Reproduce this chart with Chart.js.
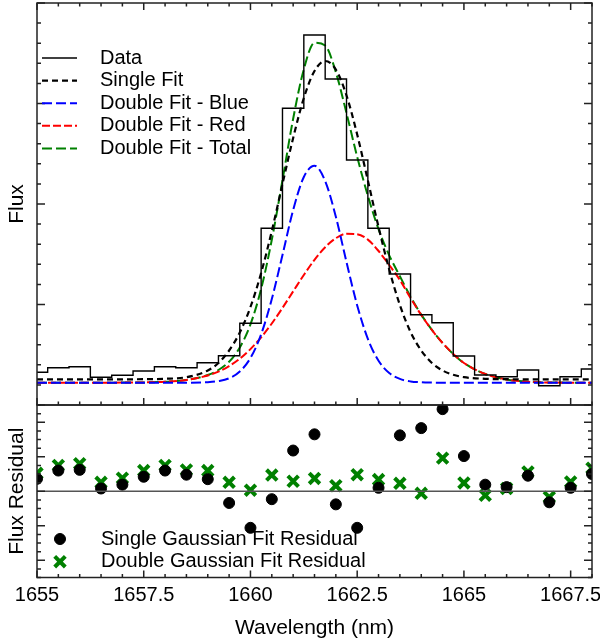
<!DOCTYPE html>
<html>
<head>
<meta charset="utf-8">
<script src="https://cdn.jsdelivr.net/npm/chart.js@4/dist/chart.umd.min.js"></script>
<style>
  body { margin: 0; background: #fff; }
  #wrap { position: relative; width: 600px; height: 643px; }
  #wrap canvas { position: absolute; left: 0; }
</style>
</head>
<body>
<div id="wrap">
  <canvas id="fluxChart" width="600" height="408" style="top:0"></canvas>
  <canvas id="residChart" width="600" height="243" style="top:400px"></canvas>
</div>
<script>
// Spectrum bins (nm) and observed flux
const binX = [1655, 1655.5, 1656, 1656.5, 1657, 1657.5, 1658, 1658.5, 1659, 1659.5,
  1660, 1660.5, 1661, 1661.5, 1662, 1662.5, 1663, 1663.5, 1664, 1664.5,
  1665, 1665.5, 1666, 1666.5, 1667, 1667.5, 1668];
const dataFlux = [0.307, 0.353, 0.363, 0.257, 0.277, 0.32, 0.363, 0.353, 0.403, 0.473,
  0.797, 1.747, 2.947, 3.68, 3.24, 2.43, 1.747, 1.29, 0.883, 0.803,
  0.47, 0.28, 0.263, 0.33, 0.173, 0.263, 0.34];

const fitX = [1655, 1656, 1657, 1657.5, 1658, 1658.5, 1659, 1659.25, 1659.5, 1659.75,
  1660, 1660.25, 1660.5, 1660.75, 1661, 1661.25, 1661.5, 1661.75, 1662, 1662.25,
  1662.5, 1662.75, 1663, 1663.25, 1663.5, 1663.75, 1664, 1664.25, 1664.5, 1664.75,
  1665, 1665.5, 1666, 1666.5, 1667, 1668];
const singleFit = [0.237, 0.237, 0.237, 0.238, 0.242, 0.258, 0.325, 0.40, 0.525, 0.705,
  0.96, 1.30, 1.72, 2.19, 2.65, 3.05, 3.32, 3.42, 3.335, 3.075,
  2.685, 2.225, 1.76, 1.335, 0.98, 0.71, 0.525, 0.40, 0.325, 0.282,
  0.258, 0.242, 0.238, 0.237, 0.237, 0.237];
const blueFit = [0.203, 0.203, 0.203, 0.203, 0.203, 0.203, 0.208, 0.219, 0.247, 0.315,
  0.45, 0.687, 1.04, 1.48, 1.93, 2.26, 2.373, 2.22, 1.863, 1.408,
  0.976, 0.641, 0.422, 0.30, 0.241, 0.216, 0.207, 0.204, 0.203, 0.203,
  0.203, 0.203, 0.203, 0.203, 0.203, 0.203];
const redFit = [0.203, 0.203, 0.204, 0.206, 0.212, 0.23, 0.275, 0.314, 0.369, 0.443,
  0.539, 0.657, 0.795, 0.951, 1.116, 1.28, 1.432, 1.558, 1.648, 1.693,
  1.688, 1.634, 1.52, 1.38, 1.23, 1.05, 0.88, 0.73, 0.60, 0.49,
  0.40, 0.29, 0.235, 0.212, 0.205, 0.203];
const totalFit = [0.203, 0.203, 0.204, 0.206, 0.212, 0.23, 0.28, 0.33, 0.413, 0.555,
  0.786, 1.141, 1.632, 2.228, 2.843, 3.337, 3.602, 3.575, 3.308, 2.898,
  2.461, 2.072, 1.739, 1.477, 1.268, 1.063, 0.884, 0.731, 0.60, 0.49,
  0.40, 0.29, 0.235, 0.212, 0.205, 0.203];

// Residuals per bin
const singleResid = [0.36, 0.6, 0.62, 0.08, 0.19, 0.42, 0.6, 0.48, 0.35, -0.34,
  -1.06, -0.23, 1.18, 1.65, -0.38, -1.06, 0.1, 1.62, 1.83, 2.38,
  1.02, 0.19, 0.12, 0.45, -0.32, 0.1, 0.5];
const doubleResid = [0.52, 0.75, 0.8, 0.26, 0.38, 0.6, 0.75, 0.62, 0.6, 0.26,
  0.03, 0.47, 0.29, 0.37, 0.16, 0.48, 0.34, 0.23, -0.06, 0.96,
  0.24, -0.12, 0.08, 0.56, -0.17, 0.27, 0.67];

const xTickLabels = [1655, 1657.5, 1660, 1662.5, 1665, 1667.5];

const FONT = "'Liberation Sans', Arial, sans-serif";
const pts = (xs, ys) => xs.map((x, i) => ({ x, y: ys[i] }));

// frame, inward ticks, zero line and in-plot legend
const framePlugin = {
  id: 'frame',
  afterDatasetsDraw(chart, args, opts) {
    const { ctx, chartArea: a } = chart;
    const xs = chart.scales.x, ys = chart.scales.y;
    ctx.save();
    ctx.strokeStyle = '#222';
    ctx.lineWidth = 1.5;

    if (opts.zeroLine) {
      const y0 = ys.getPixelForValue(0);
      ctx.strokeStyle = '#555';
      ctx.beginPath(); ctx.moveTo(a.left, y0); ctx.lineTo(a.right, y0); ctx.stroke();
      ctx.strokeStyle = '#222';
    }

    const tickRun = (scale, t, draw) => {
      for (let k = 0; ; k++) {
        const v = t.from + k * t.step;
        if (v > scale.max + 1e-6) break;
        const major = (k - (t.offset || 0)) % t.every === 0;
        draw(scale.getPixelForValue(v), major);
      }
    };
    ctx.beginPath();
    tickRun(xs, opts.xTicks, (p, major) => {
      const len = major ? 7 : 3.5;
      if (opts.xTop) { ctx.moveTo(p, a.top); ctx.lineTo(p, a.top + len); }
      ctx.moveTo(p, a.bottom); ctx.lineTo(p, a.bottom - len);
    });
    tickRun(ys, opts.yTicks, (p, major) => {
      const len = major ? 8 : 4;
      ctx.moveTo(a.left, p); ctx.lineTo(a.left + len, p);
      ctx.moveTo(a.right, p); ctx.lineTo(a.right - len, p);
    });
    ctx.stroke();

    ctx.strokeRect(a.left, a.top, a.right - a.left, a.bottom - a.top);

    // legend
    const lg = opts.legend;
    ctx.font = '20px ' + FONT;
    ctx.textBaseline = 'middle';
    chart.data.datasets.forEach((ds, i) => {
      const y = lg.top + i * lg.step;
      ctx.save();
      ctx.strokeStyle = ds.borderColor;
      ctx.fillStyle = ds.backgroundColor || ds.borderColor;
      ctx.lineWidth = ds.borderWidth;
      if (lg.kind === 'line') {
        ctx.setLineDash(ds.borderDash || []);
        ctx.beginPath(); ctx.moveTo(lg.x0, y); ctx.lineTo(lg.x1, y); ctx.stroke();
      } else {
        Chart.helpers.drawPoint(ctx, {
          pointStyle: ds.pointStyle, radius: ds.pointRadius,
          borderWidth: ds.borderWidth, rotation: 0
        }, lg.mx, y);
      }
      ctx.restore();
      ctx.fillStyle = '#000';
      ctx.fillText(ds.label, lg.tx, y);
    });
    ctx.restore();
  }
};

function yTitle(text) {
  return { display: true, text, color: '#000', font: { family: FONT, size: 21 }, padding: { top: 5, bottom: 0 } };
}

new Chart(document.getElementById('fluxChart'), {
  type: 'line',
  data: {
    datasets: [
      { label: 'Data', data: pts(binX, dataFlux), stepped: 'middle', borderColor: '#000', borderWidth: 1.4 },
      { label: 'Single Fit', data: pts(fitX, singleFit), borderColor: '#000', borderWidth: 2.2, borderDash: [6, 4], cubicInterpolationMode: 'monotone' },
      { label: 'Double Fit - Blue', data: pts(fitX, blueFit), borderColor: '#0000ff', borderWidth: 2, borderDash: [10, 4], cubicInterpolationMode: 'monotone' },
      { label: 'Double Fit - Red', data: pts(fitX, redFit), borderColor: '#ff0000', borderWidth: 2, borderDash: [8, 3], cubicInterpolationMode: 'monotone' },
      { label: 'Double Fit - Total', data: pts(fitX, totalFit), borderColor: '#008000', borderWidth: 2, borderDash: [10, 4], cubicInterpolationMode: 'monotone' }
    ]
  },
  options: {
    responsive: false,
    animation: false,
    devicePixelRatio: 1,
    elements: { point: { radius: 0 } },
    layout: { autoPadding: false, padding: { top: 3, right: 8, bottom: 3, left: 0 } },
    plugins: {
      legend: { display: false },
      tooltip: { enabled: false },
      frame: {
        xTop: true,
        xTicks: { from: 1655, step: 0.5, every: 5 },
        yTicks: { from: -0.02, step: 0.201, every: 5 },
        legend: { kind: 'line', top: 58, step: 22.6, x0: 42, x1: 77, tx: 100 }
      }
    },
    scales: {
      x: {
        type: 'linear', min: 1655, max: 1668,
        grid: { display: false, drawTicks: false }, border: { display: false },
        ticks: { display: false },
        afterFit: s => { s.height = 0; }
      },
      y: {
        min: -0.02, max: 4.0,
        grid: { display: false, drawTicks: false }, border: { display: false },
        ticks: { display: false },
        title: yTitle('Flux'),
        afterFit: s => { s.width = 37; }
      }
    }
  },
  plugins: [framePlugin]
});

new Chart(document.getElementById('residChart'), {
  type: 'scatter',
  data: {
    datasets: [
      { label: 'Single Gaussian Fit Residual', data: pts(binX, singleResid), pointStyle: 'circle', pointRadius: 5.5, borderWidth: 1, borderColor: '#000', backgroundColor: '#000' },
      { label: 'Double Gaussian Fit Residual', data: pts(binX, doubleResid), pointStyle: 'crossRot', pointRadius: 7.5, borderWidth: 4, borderColor: '#008000', backgroundColor: '#008000' }
    ]
  },
  options: {
    responsive: false,
    animation: false,
    devicePixelRatio: 1,
    layout: { autoPadding: false, padding: { top: 5, right: 8, bottom: 0, left: 0 } },
    plugins: {
      legend: { display: false },
      tooltip: { enabled: false },
      frame: {
        zeroLine: true,
        xTop: false,
        xTicks: { from: 1655, step: 0.5, every: 5 },
        yTicks: { from: -2.5, step: 0.25, every: 4, offset: 2 },
        legend: { kind: 'point', top: 139, step: 22.7, mx: 60, tx: 101 }
      }
    },
    scales: {
      x: {
        type: 'linear', min: 1655, max: 1668,
        grid: { display: false, drawTicks: false }, border: { display: false },
        ticks: {
          stepSize: 0.5, autoSkip: false, maxRotation: 0, minRotation: 0, padding: 6,
          color: '#000', font: { family: FONT, size: 20 },
          callback: v => xTickLabels.includes(v) ? String(v) : ''
        },
        title: { display: true, text: 'Wavelength (nm)', color: '#000', font: { family: FONT, size: 21 }, padding: { top: 0, bottom: 2 } },
        afterFit: s => { s.height = 65.5; }
      },
      y: {
        min: -2.5, max: 2.5,
        grid: { display: false, drawTicks: false }, border: { display: false },
        ticks: { display: false },
        title: yTitle('Flux Residual'),
        afterFit: s => { s.width = 37; }
      }
    }
  },
  plugins: [framePlugin]
});
</script>
</body>
</html>
